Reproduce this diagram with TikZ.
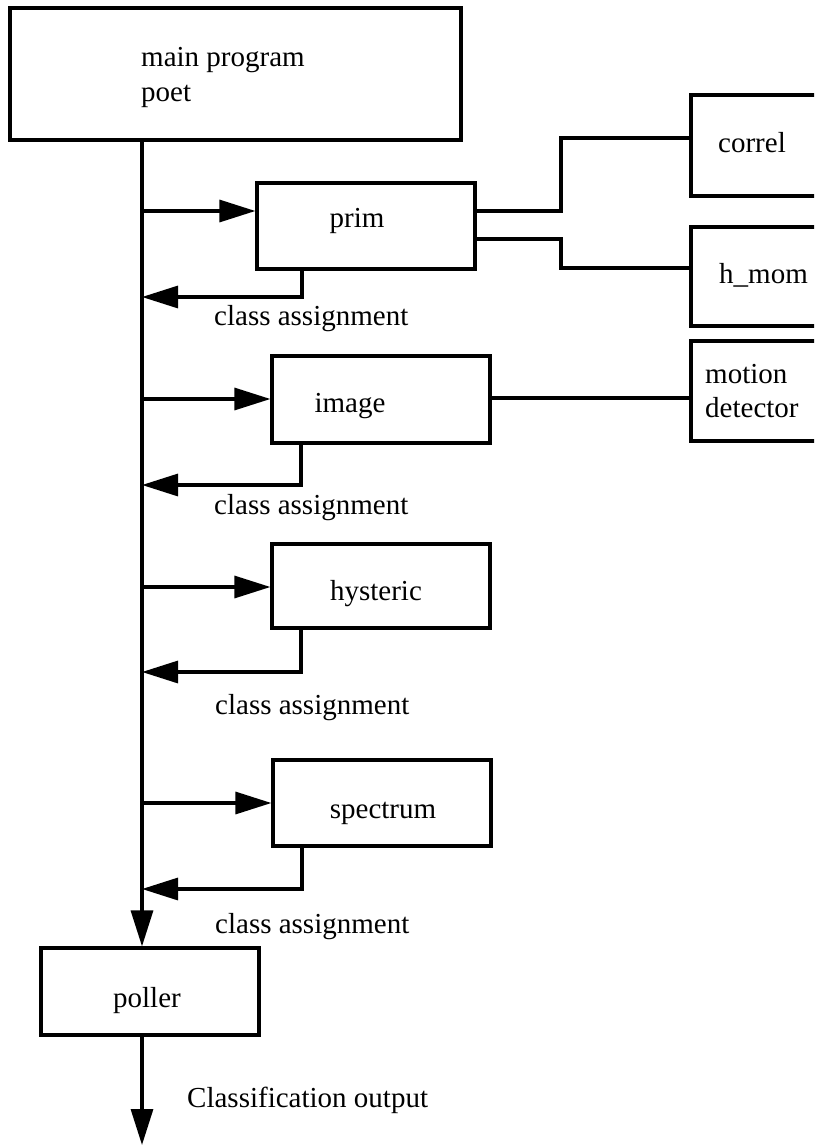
\documentclass[tikz,border=0pt]{standalone}
\usepackage{fontspec}
\setmainfont{Liberation Serif}
\usetikzlibrary{arrows.meta}
\begin{document}
\begin{tikzpicture}[x=1pt,y=-1pt,
  wire/.style={line width=3.2pt},
  arr/.style={wire,-{Triangle[length=36pt,width=22pt]}},
  box/.style={draw,line width=3.2pt,inner sep=0pt,minimum width=#1},
  txt/.style={font=\fontsize{29}{35}\selectfont,inner sep=0pt}]
\clip (0,0) rectangle (814,1145);
\useasboundingbox (0,0) rectangle (814,1145);
% boxes
\node[box=451pt,minimum height=132pt] (main) at (235.5,74) {};
\node[box=218pt,minimum height=86pt] (prim) at (366,226) {};
\node[box=138pt,minimum height=101pt] (correl) at (760,145.5) {};
\node[box=138pt,minimum height=99pt] (hmom) at (760,276.5) {};
\node[box=138pt,minimum height=100pt] (motion) at (760,391) {};
\node[box=218pt,minimum height=87pt] (image) at (381,399.5) {};
\node[box=218pt,minimum height=84pt] (hysteric) at (381,586) {};
\node[box=218pt,minimum height=86pt] (spectrum) at (382,803) {};
\node[box=218pt,minimum height=87pt] (poller) at (150,991.5) {};
% texts
\node[txt,anchor=base west] (tmain1) at (141,67) {main program};
\node[txt,anchor=base west] (tmain2) at (141,102) {poet};
\node[txt,anchor=base] (tprim) at (357,227) {prim};
\node[txt,anchor=base west] (tcorrel) at (718,153) {correl};
\node[txt,anchor=base west] (thmom) at (719,283) {h\_mom};
\node[txt,anchor=base west] (tmot1) at (705,383) {motion};
\node[txt,anchor=base west] (tmot2) at (705,417) {detector};
\node[txt,anchor=base] (timage) at (350,412) {image};
\node[txt,anchor=base] (thyst) at (376,600) {hysteric};
\node[txt,anchor=base] (tspec) at (383,818) {spectrum};
\node[txt,anchor=base] (tpoll) at (147,1007) {poller};
\node[txt,anchor=base west] (ca1) at (214,325) {class assignment};
\node[txt,anchor=base west] (ca2) at (214,514) {class assignment};
\node[txt,anchor=base west] (ca3) at (215,714) {class assignment};
\node[txt,anchor=base west] (ca4) at (215,933) {class assignment};
\node[txt,anchor=base west] (tout) at (187,1107) {Classification output};
% helper coordinates
\coordinate (bus) at (142,0);
\coordinate (fP) at (0,211);
\coordinate (fI) at (0,399);
\coordinate (fH) at (0,587);
\coordinate (fS) at (0,803);
\coordinate (rP) at (302,297);
\coordinate (rI) at (301,485);
\coordinate (rH) at (301,672);
\coordinate (rS) at (302,889);
\coordinate (kP) at (561,0);
\coordinate (c1) at (0,138);
\coordinate (c2) at (0,239);
\coordinate (c3) at (0,268);
\coordinate (m1) at (0,398);
\coordinate (out) at (142,1145);
% main bus
\draw[arr] (bus |- main.south) -- (bus |- poller.north);
\draw[arr] (bus |- poller.south) -- (out);
% calls
\draw[arr] (bus |- fP) -- (prim.west |- fP);
\draw[arr] (bus |- fI) -- (image.west |- fI);
\draw[arr] (bus |- fH) -- (hysteric.west |- fH);
\draw[arr] (bus |- fS) -- (spectrum.west |- fS);
% returns
\draw[arr] (prim.south -| rP) -- (rP) -- (bus |- rP);
\draw[arr] (image.south -| rI) -- (rI) -- (bus |- rI);
\draw[arr] (hysteric.south -| rH) -- (rH) -- (bus |- rH);
\draw[arr] (spectrum.south -| rS) -- (rS) -- (bus |- rS);
% sub modules
\draw[wire] (prim.east |- fP) -- (kP |- fP) -- (kP |- c1) -- (correl.west |- c1);
\draw[wire] (prim.east |- c2) -- (kP |- c2) -- (kP |- c3) -- (hmom.west |- c3);
\draw[wire] (image.east |- m1) -- (motion.west |- m1);
\end{tikzpicture}
\end{document}
